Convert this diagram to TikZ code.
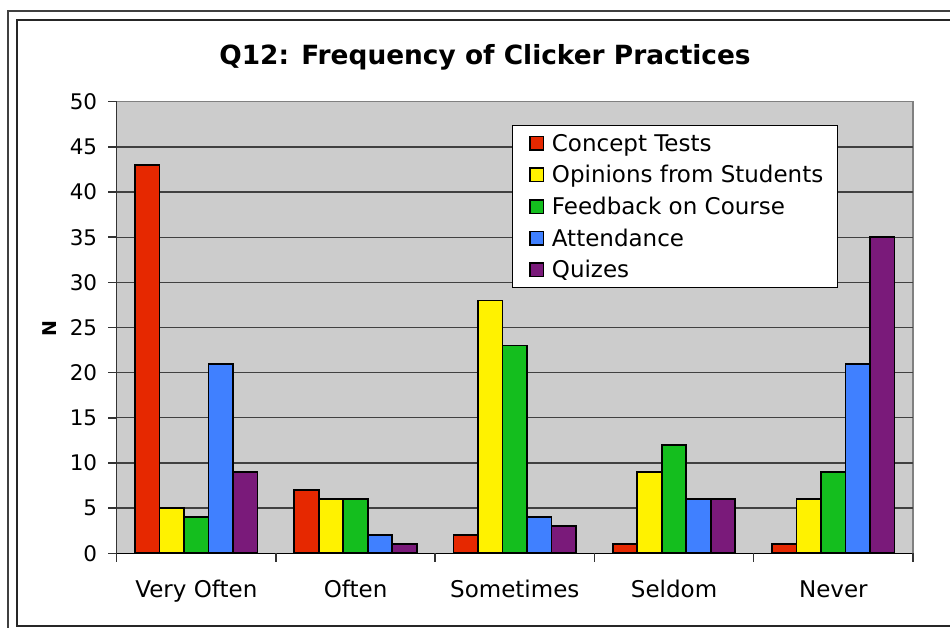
\documentclass[tikz,border=0pt]{standalone}
\usepackage{fontspec}
\setmainfont{DejaVu Sans}
\usepackage{xcolor}
\usepackage{tikz}

\definecolor{plotgray}{RGB}{204,204,204}
\definecolor{barred}{RGB}{230,40,0}
\definecolor{baryellow}{RGB}{255,242,0}
\definecolor{bargreen}{RGB}{20,190,30}
\definecolor{barblue}{RGB}{64,128,255}
\definecolor{barpurple}{RGB}{122,26,122}

\begin{document}
\begin{tikzpicture}[x=1pt,y=-1pt,
    bar/.style={draw=black, line width=1.8pt},
    gridline/.style={draw=black!75, line width=1.3pt},
    ticklabel/.style={font=\fontsize{21.5}{25}\selectfont, anchor=east, inner sep=0pt},
    catlabel/.style={font=\fontsize{23}{27}\selectfont, anchor=base, inner sep=0pt},
    legendtext/.style={font=\fontsize{23}{27}\selectfont, anchor=base west, inner sep=0pt},
    swatch/.style={draw=black, line width=1.5pt, minimum size=13.5pt, inner sep=0pt}]
        \useasboundingbox (0,0) rectangle (950,628);

        % frames
        \draw [black!75, line width=1.8pt] (8,628) -- (8,11) -- (950,11);   % Outer  Frame
        \draw [black!85, line width=1.8pt] (950,20) -- (17,20) -- (17,626) -- (950,626); % Inner Frame

        % plot area
        \fill [plotgray] (116.7,101.7) rectangle (912.95,553.3);
        \draw [black!50, line width=1.5pt] (116.7,101.7) -- (912.95,101.7) -- (912.95,553.3); % Top and Right

        \begin{scope}[shift={(116.7,553.3)}, x=24.5pt, y=9.032pt]
        % grid lines
        \draw [gridline] (0, 5) -- (32.5, 5);
        \draw [gridline] (0,10) -- (32.5,10);
        \draw [gridline] (0,15) -- (32.5,15);
        \draw [gridline] (0,20) -- (32.5,20);
        \draw [gridline] (0,25) -- (32.5,25);
        \draw [gridline] (0,30) -- (32.5,30);
        \draw [gridline] (0,35) -- (32.5,35);
        \draw [gridline] (0,40) -- (32.5,40);
        \draw [gridline] (0,45) -- (32.5,45);

        % axes and ticks
        \draw [black!80, line width=1.5pt] (0,0) -- (0,50);   % Left   Axis
        \draw [black, line width=1.5pt] (0,0) -- (32.5,0);    % Bottom Axis
        \foreach \v in {0,5,...,50} \draw [black!80, line width=1.5pt] (-0.355,\v) -- (0,\v);
        \foreach \c in {0,6.5,...,32.5} \draw [black!80, line width=1.5pt] (\c,0) -- (\c,-1);

        % Very Often
        \draw [bar, fill=barred]    ( 0.75,0) rectangle ( 1.75,43);
        \draw [bar, fill=baryellow] ( 1.75,0) rectangle ( 2.75, 5);
        \draw [bar, fill=bargreen]  ( 2.75,0) rectangle ( 3.75, 4);
        \draw [bar, fill=barblue]   ( 3.75,0) rectangle ( 4.75,21);
        \draw [bar, fill=barpurple] ( 4.75,0) rectangle ( 5.75, 9);

        % Often
        \draw [bar, fill=barred]    ( 7.25,0) rectangle ( 8.25, 7);
        \draw [bar, fill=baryellow] ( 8.25,0) rectangle ( 9.25, 6);
        \draw [bar, fill=bargreen]  ( 9.25,0) rectangle (10.25, 6);
        \draw [bar, fill=barblue]   (10.25,0) rectangle (11.25, 2);
        \draw [bar, fill=barpurple] (11.25,0) rectangle (12.25, 1);

        % Sometimes
        \draw [bar, fill=barred]    (13.75,0) rectangle (14.75, 2);
        \draw [bar, fill=baryellow] (14.75,0) rectangle (15.75,28);
        \draw [bar, fill=bargreen]  (15.75,0) rectangle (16.75,23);
        \draw [bar, fill=barblue]   (16.75,0) rectangle (17.75, 4);
        \draw [bar, fill=barpurple] (17.75,0) rectangle (18.75, 3);

        % Seldom
        \draw [bar, fill=barred]    (20.25,0) rectangle (21.25, 1);
        \draw [bar, fill=baryellow] (21.25,0) rectangle (22.25, 9);
        \draw [bar, fill=bargreen]  (22.25,0) rectangle (23.25,12);
        \draw [bar, fill=barblue]   (23.25,0) rectangle (24.25, 6);
        \draw [bar, fill=barpurple] (24.25,0) rectangle (25.25, 6);

        % Never
        \draw [bar, fill=barred]    (26.75,0) rectangle (27.75, 1);
        \draw [bar, fill=baryellow] (27.75,0) rectangle (28.75, 6);
        \draw [bar, fill=bargreen]  (28.75,0) rectangle (29.75, 9);
        \draw [bar, fill=barblue]   (29.75,0) rectangle (30.75,21);
        \draw [bar, fill=barpurple] (30.75,0) rectangle (31.75,35);

        % tick labels
        \node [ticklabel] (y0)  at (-0.79, 0) {0};
        \node [ticklabel] (y5)  at (-0.79, 5) {5};
        \node [ticklabel] (y10) at (-0.79,10) {10};
        \node [ticklabel] (y15) at (-0.79,15) {15};
        \node [ticklabel] (y20) at (-0.79,20) {20};
        \node [ticklabel] (y25) at (-0.79,25) {25};
        \node [ticklabel] (y30) at (-0.79,30) {30};
        \node [ticklabel] (y35) at (-0.79,35) {35};
        \node [ticklabel] (y40) at (-0.79,40) {40};
        \node [ticklabel] (y45) at (-0.79,45) {45};
        \node [ticklabel] (y50) at (-0.79,50) {50};

        % category labels
        \node [catlabel] (catVO) at ( 3.25,-4.84) {Very Often};
        \node [catlabel] (catOf) at ( 9.75,-4.84) {Often};
        \node [catlabel] (catSt) at (16.25,-4.84) {Sometimes};
        \node [catlabel] (catSd) at (22.75,-4.84) {Seldom};
        \node [catlabel] (catNv) at (29.25,-4.84) {Never};
        \end{scope}

        % title and axis name
        \node [font=\bfseries\fontsize{26.4}{31}\selectfont, anchor=base] (title) at (485,65) {Q12: Frequency of Clicker Practices};
        \node [font=\bfseries\fontsize{19}{23}\selectfont, rotate=90, inner sep=0pt] (yname) at (49.7,329) {N};

        % legend
        \draw [black, line width=1.2pt, fill=white] (512.3,125.7) rectangle (837.3,287.7);
        \node [swatch, fill=barred]    (swCT) at (536.8,143.3) {};
        \node [swatch, fill=baryellow] (swOS) at (536.8,175.0) {};
        \node [swatch, fill=bargreen]  (swFC) at (536.8,206.7) {};
        \node [swatch, fill=barblue]   (swAt) at (536.8,238.3) {};
        \node [swatch, fill=barpurple] (swQz) at (536.8,270.0) {};
        \node [legendtext] (lgCT) at (551.7,151.3) {Concept Tests};
        \node [legendtext] (lgOS) at (551.7,183.0) {Opinions from Students};
        \node [legendtext] (lgFC) at (551.7,214.7) {Feedback on Course};
        \node [legendtext] (lgAt) at (551.7,246.3) {Attendance};
        \node [legendtext] (lgQz) at (551.7,278.0) {Quizes};
    \end{tikzpicture}
\end{document}
